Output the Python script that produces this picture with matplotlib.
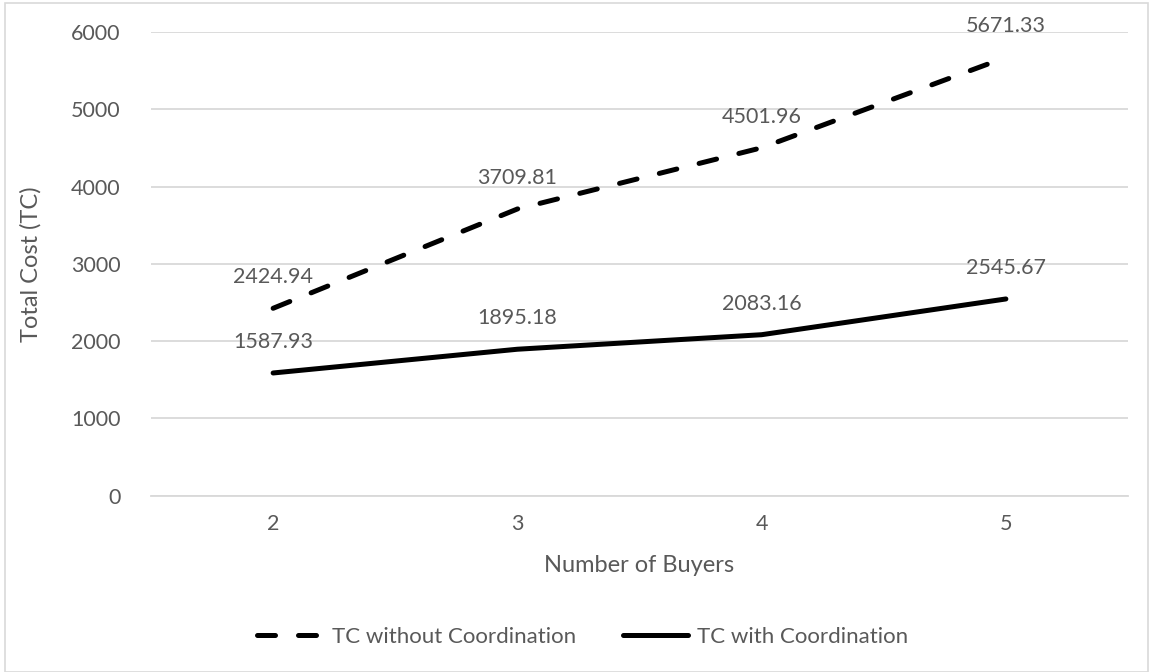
import matplotlib.pyplot as plt
import matplotlib.ticker as ticker
from matplotlib.patches import Rectangle

plt.rcParams['font.family'] = ['Lato', 'DejaVu Sans']

# Chart data
buyers = [2, 3, 4, 5]
tc_without = [2424.94, 3709.81, 4501.96, 5671.33]
tc_with = [1587.93, 1895.18, 2083.16, 2545.67]
y_ticks = [0, 1000, 2000, 3000, 4000, 5000, 6000]

text_grey = "#595959"
grid_grey = "#d9d9d9"

fig = plt.figure(figsize=(11.53, 6.72), dpi=100, facecolor="white")
ax = fig.add_axes([151 / 1153, 1 - 495.7 / 672, 977 / 1153, (495.7 - 32) / 672])

# light frame around the whole chart
fig.patches.append(Rectangle((5 / 1153, 0), 1143 / 1153, 1 - 3 / 672, transform=fig.transFigure,
                             fill=False, edgecolor=grid_grey, lw=1.2))

ax.plot(buyers, tc_without, color="black", lw=3.6, ls=(0, (3.6, 4.6)),
        dash_capstyle="round", solid_capstyle="round", label="TC without Coordination", zorder=4)
ax.plot(buyers, tc_with, color="black", lw=3.6, solid_capstyle="round",
        label="TC with Coordination", zorder=4)

# data labels above each point
for series in (tc_without, tc_with):
    for x, y in zip(buyers, series):
        ax.annotate(f"{y:.2f}", xy=(x, y), xytext=(0, 31), textcoords="offset pixels",
                    ha="center", va="center", fontsize=15.5, color=text_grey)

ax.set_xlim(1.5, 5.5)
ax.set_ylim(0, 6000)
ax.set_xticks(buyers)
ax.set_yticks(y_ticks)
ax.yaxis.set_major_formatter(ticker.FormatStrFormatter("%d"))

ax.grid(axis="y", color=grid_grey, lw=1.3, zorder=0)
ax.set_axisbelow(True)
for s in ["top", "right", "left"]:
    ax.spines[s].set_visible(False)
ax.spines["bottom"].set_color(grid_grey)
ax.spines["bottom"].set_linewidth(1.3)
ax.tick_params(length=0, labelsize=15.5, labelcolor=text_grey)
ax.tick_params(axis="y", pad=22)
ax.tick_params(axis="x", pad=13)

ax.set_xlabel("Number of Buyers", fontsize=17, color=text_grey, labelpad=15)
ax.set_ylabel("Total Cost (TC)", fontsize=17, color=text_grey, labelpad=21)

ax.legend(loc="center", bbox_to_anchor=(0.442, -0.305), ncol=2, frameon=False,
          fontsize=16, labelcolor=text_grey, handlelength=2.95, handletextpad=0.4,
          columnspacing=2.1)

fig.savefig("out.png", dpi=100, facecolor="white")
